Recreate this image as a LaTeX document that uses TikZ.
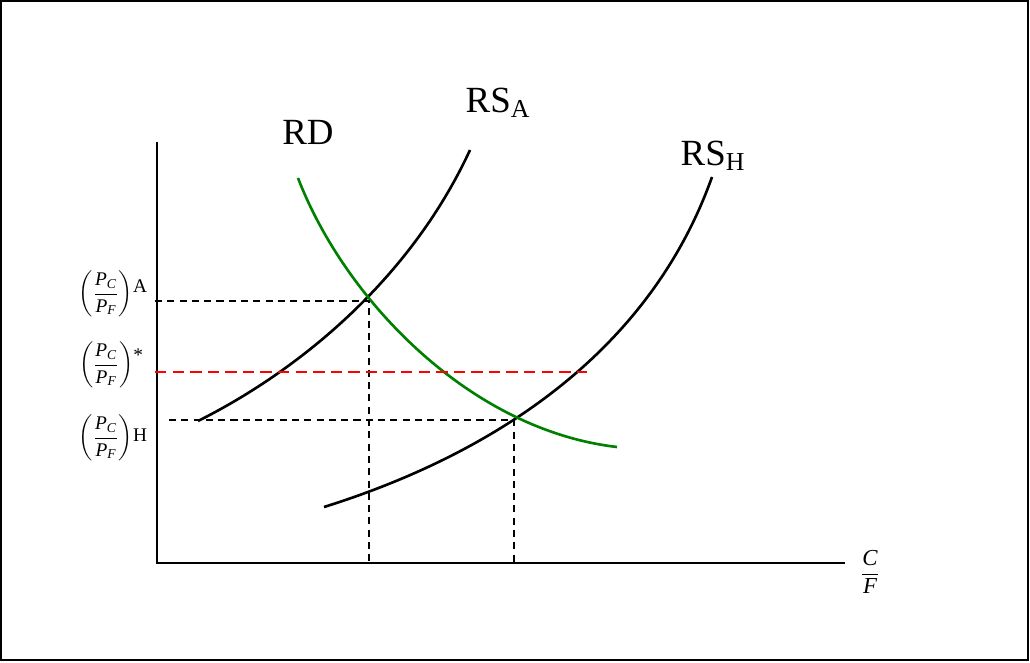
\documentclass[tikz,border=0pt]{standalone}
\usepackage{fontspec}
\setmainfont{Liberation Serif}
\usepackage{amsmath}
\usetikzlibrary{calc, positioning}

\newcommand{\pratio}{\ensuremath{\displaystyle\left(\frac{\textit{P}_{\textit{C}}}{\textit{P}_{\textit{F}}}\right)}}

\begin{document}
\begin{tikzpicture}[
        x=0.02cm, y=-0.02cm,
        axis/.style={line width=1.2pt},
        curve/.style={line width=1.5pt},
        guide/.style={line width=0.9pt, dash pattern=on 4pt off 3pt},
        priceline/.style={line width=1.6pt, red, dash pattern=on 6.5pt off 3.5pt},
        curvelabel/.style={font=\fontsize{21}{23}\selectfont, inner sep=0pt},
        pricelabel/.style={font=\fontsize{11}{13}\selectfont, inner sep=0pt},
    ]
    \useasboundingbox (0,0) rectangle (1030,662);
    % Rahmen
    \draw[line width=0.7pt] (1,1) rectangle (1028,660);

    % Achsen
    \coordinate (O) at (157,563);
    \coordinate (ytop) at (157,142);
    \coordinate (xend) at (845,563);
    \draw[axis] (ytop) -- (O) -- (xend);

    % Gleichgewichte
    \coordinate (eqA) at (369,301);
    \coordinate (eqH) at (514,420);
    \coordinate (eqAx) at (eqA |- O);
    \coordinate (eqHx) at (eqH |- O);

    % Kurven
    \draw[curve] (198,421) .. controls (298,371) and (410,280) .. (470,150);
    \draw[curve] (324,507) .. controls (474,460) and (645,365) .. (712,177);
    \draw[curve, green!50!black] (298,178) .. controls (345,300) and (470,430) .. (617,447);

    % Hilfslinien
    \coordinate (pAy) at (155,301);
    \coordinate (pHy) at (169,420);
    \coordinate (pSy) at (155,372);
    \coordinate (pSend) at (587,372);
    \draw[guide] (pAy) -- (eqA) -- (eqAx);
    \draw[guide] (pHy) -- (eqH) -- (eqHx);
    \draw[priceline] (pSy) -- (pSend);

    % Beschriftungen
    \node[curvelabel] (rd) at (308,132) {RD};
    \node[curvelabel] (rsa) at (498,103) {RS\textsubscript{A}};
    \node[curvelabel] (rsh) at (713,156) {RS\textsubscript{H}};
    \node[pricelabel] (pa) at (113,294) {\pratio\raisebox{0.7ex}{A}};
    \node[pricelabel] (pstar) at (111,365) {\pratio\raisebox{0.9ex}{*}};
    \node[pricelabel] (ph) at (113,438) {\pratio\raisebox{0.2ex}{H}};
    \node[pricelabel, font=\fontsize{13}{15}\selectfont] (cf) at (870,572)
        {$\dfrac{\textit{C}}{\textit{F}}$};

    \end{tikzpicture}
\end{document}
